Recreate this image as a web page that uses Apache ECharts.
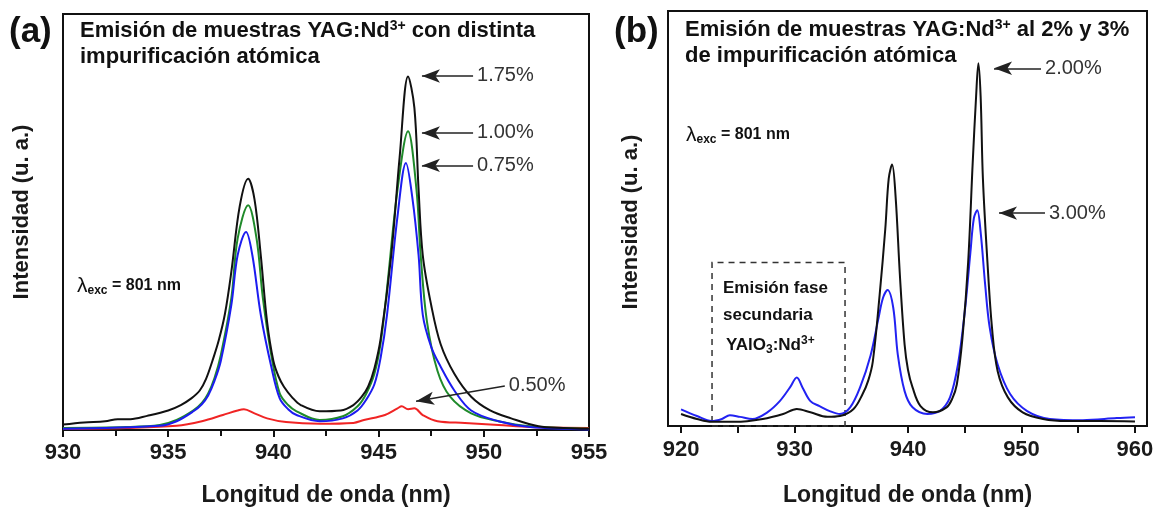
<!DOCTYPE html>
<html>
<head>
<meta charset="utf-8">
<script src="https://cdn.jsdelivr.net/npm/echarts@6/dist/echarts.min.js"></script>
<style>
  html, body { margin: 0; padding: 0; background: #fff; }
  #chart { width: 1157px; height: 512px; }
</style>
</head>
<body>
<div id="chart"></div>
<script>
// panel (a): emission of YAG:Nd3+ samples, different doping
const waveA175 = [930, 931, 932, 932.6, 933.2, 934, 935, 935.6, 936.1, 936.5, 936.8, 937.1, 937.4, 937.7, 938.0, 938.4, 938.8, 939.1, 939.4, 939.7, 940.0, 940.25, 940.5, 940.9, 941.3, 942.2, 943.2, 943.8, 944.2, 944.5, 944.8, 945.1, 945.6, 946.0, 946.4, 946.7, 946.9, 947.1, 947.5, 947.95, 948.6, 949.4, 950.3, 951.3, 952.6, 953.8, 955]
const intA175 = [1.3, 1.8, 2.1, 2.6, 2.6, 3.4, 4.7, 6.0, 7.6, 9.5, 12.3, 16.6, 21.5, 28, 38, 53.8, 60.4, 55.5, 42, 26, 16.6, 12.8, 10.4, 7.8, 6, 4.5, 4.7, 6, 8.0, 10.4, 14.8, 22, 42, 65.6, 85, 77.5, 57.8, 42, 30, 20.6, 13.5, 8, 4.7, 2.8, 0.9, 0.5, 0.3]

const waveA100 = [930, 933, 934.6, 935.4, 936.2, 936.6, 936.9, 937.2, 937.5, 938.0, 938.3, 938.8, 939.2, 939.5, 939.9, 940.3, 940.7, 941.1, 942.2, 943.3, 944.0, 944.4, 944.8, 945.1, 945.4, 945.9, 946.4, 946.8, 947.0, 947.3, 947.8, 948.4, 949.4, 950.7, 952.2, 955]
const intA100 = [0.5, 0.7, 1.2, 2.4, 4.7, 6.5, 8.8, 12.5, 18, 31.7, 46, 54, 46, 31.7, 18, 8.8, 6.0, 4.5, 2.4, 3.3, 5.7, 8.6, 13.5, 21, 34, 57.8, 71.8, 57.8, 42, 26, 14.2, 8, 4, 2.1, 0.9, 0.3]

const waveA075 = [930, 934.6, 935.4, 936.2, 936.6, 936.9, 937.2, 937.5, 938.0, 938.3, 938.7, 939.0, 939.4, 939.9, 940.3, 940.7, 941.1, 942.2, 943.3, 944.0, 944.4, 944.8, 945.1, 945.4, 945.9, 946.3, 946.6, 946.9, 947.1, 947.5, 947.95, 948.6, 949.4, 950.7, 952.2, 955]
const intA075 = [0.3, 1, 2.1, 4.5, 6.2, 8.3, 11.8, 16.6, 30, 42, 47.6, 42, 27.7, 15.2, 7.6, 5.0, 3.6, 2.1, 2.8, 4.7, 7.2, 11, 17.5, 27.7, 51.4, 64.2, 56, 42, 27.7, 20, 15.2, 9.5, 4.7, 2.1, 0.7, 0.1]

const waveA050 = [930, 933, 935.4, 936.6, 937.6, 938.3, 938.6, 939.1, 939.7, 940.6, 942.2, 943.8, 944.3, 945.3, 945.9, 946.1, 946.4, 946.7, 947.1, 947.8, 949.1, 950.7, 952.2, 955]
const intA050 = [0.3, 0.5, 1, 2.1, 3.6, 4.7, 5, 4, 2.8, 1.9, 1.5, 1.7, 2.4, 3.6, 5.2, 5.7, 5, 5.2, 3.6, 2.1, 1.7, 1.2, 0.7, 0.5]

// panel (b): 2% and 3% doping
const waveB200 = [920, 921.4, 922.7, 924.8, 927.2, 929, 930.2, 931.4, 932.9, 934, 935.2, 936, 936.5, 936.9, 937.5, 938, 938.3, 938.6, 938.9, 939.3, 939.7, 940.0, 940.4, 941.1, 942.2, 943.4, 943.9, 944.3, 944.8, 945.3, 945.7, 946, 946.2, 946.4, 946.6, 947, 947.4, 947.9, 948.8, 950.1, 951.9, 954, 956.9, 960]
const intB200 = [2.9, 1.7, 1, 1, 1.7, 2.9, 4.1, 3.3, 2.2, 2.4, 4.1, 7.7, 11, 15.6, 31.6, 47.6, 59.6, 63, 55.5, 35.6, 19.6, 13.5, 9.3, 4.8, 3.3, 4.5, 6.6, 10, 21.3, 39.5, 63.4, 79.4, 87.4, 79.4, 59.6, 39.5, 23.7, 13.2, 6.9, 3.3, 1.7, 1.2, 1.2, 1.1]

const waveB300 = [920, 921.4, 922.7, 923.6, 924.3, 925.2, 926.3, 927.6, 928.7, 929.6, 930.2, 930.7, 931.4, 932.2, 933.1, 934, 934.9, 935.8, 936.7, 937.4, 937.8, 938.2, 938.7, 939.1, 939.7, 940.4, 941.7, 942.8, 943.7, 944.4, 945, 945.5, 945.8, 946.1, 946.4, 946.8, 947.2, 947.9, 949, 950.5, 952.5, 955.4, 958.4, 960]
const intB300 = [4, 2.4, 1.2, 1.7, 2.6, 2.2, 1.7, 3.3, 6, 9.3, 11.7, 9.3, 6, 4.8, 3.6, 2.9, 4.5, 9.5, 17, 26, 30.9, 32.8, 28.5, 17.2, 8.4, 4.5, 2.9, 3.6, 6.9, 14.8, 27.5, 41.9, 50, 52, 46.7, 34, 23.7, 14.8, 7.7, 3.6, 1.7, 1.4, 1.9, 2.1]

const ticksA = [930, 935, 940, 945, 950, 955]
const ticksB = [920, 930, 940, 950, 960]
const minorTicksB = [920, 925, 930, 935, 940, 945, 950, 955, 960]

const FONT = '"Liberation Sans", Arial, Helvetica, sans-serif'

const zip = (xs, ys) => xs.map((x, i) => [x, ys[i]])

const chart = echarts.init(document.getElementById('chart'), null, { renderer: 'canvas' })

const xAxisBase = {
  type: 'value',
  splitLine: { show: false },
  axisLine: { show: true, onZero: false, lineStyle: { color: '#111', width: 2 } },
  axisTick: { show: true, inside: false, length: 7, lineStyle: { color: '#111', width: 2 } },
  axisLabel: { color: '#1a1a1a', fontSize: 22, fontWeight: 'bold', fontFamily: FONT, margin: 12 },
  name: 'Longitud de onda (nm)',
  nameLocation: 'middle',
  nameGap: 54,
  nameTextStyle: { color: '#1a1a1a', fontSize: 23, fontWeight: 'bold', fontFamily: FONT }
}

const yAxisBase = {
  type: 'value',
  min: 0,
  max: 100,
  axisLine: { show: false },
  axisTick: { show: false },
  axisLabel: { show: false },
  splitLine: { show: false }
}

const lineSeries = (name, data, color, xi) => ({
  name: name,
  type: 'line',
  xAxisIndex: xi,
  yAxisIndex: xi,
  data: data,
  symbol: 'none',
  smooth: 0.35,
  lineStyle: { color: color, width: 2 },
  silent: true
})

const arrowStyle = {
  silent: true,
  symbol: ['arrow', 'none'],
  symbolSize: [10, 18],
  lineStyle: { color: '#222', width: 1.5, type: 'solid' },
  label: { show: true, position: 'end', distance: 4, formatter: '{b}', color: '#333', fontSize: 20, fontFamily: FONT }
}

const arrow = (name, x1, y1, x2, y2) => [
  { name: name, coord: [x1, y1] },
  { coord: [x2, y2] }
]

const black175 = lineSeries('1.75%', zip(waveA175, intA175), '#111', 0)
black175.markLine = Object.assign({}, arrowStyle, {
  data: [
    arrow('1.75%', 947.06, 85.1, 949.49, 85.1),
    arrow('1.00%', 947.06, 71.4, 949.49, 71.4),
    arrow('0.75%', 947.06, 63.6, 949.49, 63.6),
    arrow('0.50%', 946.78, 6.9, 951.0, 10.6)
  ]
})

const black200 = lineSeries('2.00%', zip(waveB200, intB200), '#111', 1)
black200.markLine = Object.assign({}, arrowStyle, {
  data: [
    arrow('2.00%', 947.58, 86.2, 951.72, 86.2),
    arrow('3.00%', 948.02, 51.3, 952.07, 51.3)
  ]
})
black200.markArea = {
  silent: true,
  itemStyle: { color: 'rgba(0,0,0,0)', borderColor: '#333', borderWidth: 1.5, borderType: [6, 5] },
  data: [[{ coord: [922.73, 0] }, { coord: [934.45, 39.4] }]]
}

const boldText = (size) => ({ fontSize: size, fontWeight: 'bold', fontFamily: FONT, fill: '#111' })
const sup = { fontSize: 14, fontWeight: 'bold', fontFamily: FONT, fill: '#111', padding: [0, 0, 10, 0] }

const titleText = (x, y, text) => ({
  type: 'text', x: x, y: y, silent: true,
  style: Object.assign(boldText(22), { text: text, verticalAlign: 'middle', rich: { sup: sup } })
})

const lambdaText = (x, y) => ({
  type: 'text', x: x, y: y, silent: true,
  style: {
    text: '{l|λ}{s|exc}{n| = 801 nm}', verticalAlign: 'middle', fill: '#111',
    rich: {
      l: { fontSize: 21, fontFamily: FONT, fill: '#111' },
      s: { fontSize: 12, fontWeight: 'bold', fontFamily: FONT, fill: '#111', padding: [9, 0, 0, 0] },
      n: { fontSize: 16, fontWeight: 'bold', fontFamily: FONT, fill: '#111' }
    }
  }
})

const yName = (x, y) => ({
  type: 'text', x: x, y: y, rotation: Math.PI / 2, silent: true,
  style: Object.assign(boldText(22), { text: 'Intensidad (u. a.)', align: 'center', verticalAlign: 'middle', fill: '#1a1a1a' })
})

const option = {
  animation: false,
  backgroundColor: '#ffffff',
  grid: [
    { left: 63, top: 14, width: 526, height: 423, show: true, borderColor: '#111', borderWidth: 2, backgroundColor: 'transparent' },
    { left: 668, top: 11, width: 479, height: 421, show: true, borderColor: '#111', borderWidth: 2, backgroundColor: 'transparent' }
  ],
  xAxis: [
    Object.assign({}, xAxisBase, {
      gridIndex: 0, min: ticksA[0], max: ticksA[ticksA.length - 1], interval: 5,
      minorTick: { show: true, splitNumber: 2, length: 6, lineStyle: { color: '#111', width: 2 } },
      axisLabel: Object.assign({}, xAxisBase.axisLabel, { showMinLabel: true, showMaxLabel: true })
    }),
    Object.assign({}, xAxisBase, {
      gridIndex: 1, min: 918.85, max: 961.06,
      axisTick: Object.assign({}, xAxisBase.axisTick, { customValues: minorTicksB }),
      axisLabel: Object.assign({}, xAxisBase.axisLabel, { customValues: ticksB, margin: 13 }),
      nameGap: 58
    })
  ],
  yAxis: [
    Object.assign({}, yAxisBase, { gridIndex: 0 }),
    Object.assign({}, yAxisBase, { gridIndex: 1 })
  ],
  series: [
    lineSeries('0.50%', zip(waveA050, intA050), '#f02424', 0),
    lineSeries('1.00%', zip(waveA100, intA100), '#1f8a2a', 0),
    lineSeries('0.75%', zip(waveA075, intA075), '#1c1cf0', 0),
    black175,
    lineSeries('3.00%', zip(waveB300, intB300), '#2222f2', 1),
    black200
  ],
  graphic: [
    { type: 'text', x: 9, y: 32, silent: true, style: Object.assign(boldText(35), { text: '(a)', verticalAlign: 'middle' }) },
    titleText(80, 31, 'Emisión de muestras YAG:Nd{sup|3+} con distinta'),
    titleText(80, 57, 'impurificación atómica'),
    { type: 'text', x: 614, y: 32, silent: true, style: Object.assign(boldText(35), { text: '(b)', verticalAlign: 'middle' }) },
    titleText(685, 30, 'Emisión de muestras YAG:Nd{sup|3+} al 2% y 3%'),
    titleText(685, 56, 'de impurificación atómica'),
    lambdaText(77, 286),
    lambdaText(686, 135),
    yName(22, 212),
    yName(631, 222),
    {
      type: 'text', x: 723, y: 288, silent: true,
      style: Object.assign(boldText(17), { text: 'Emisión fase', verticalAlign: 'middle' })
    },
    {
      type: 'text', x: 723, y: 315, silent: true,
      style: Object.assign(boldText(17), { text: 'secundaria', verticalAlign: 'middle' })
    },
    {
      type: 'text', x: 726, y: 345, silent: true,
      style: {
        text: '{n|YAlO}{s|3}{n|:Nd}{p|3+}', verticalAlign: 'middle',
        rich: {
          n: { fontSize: 17, fontWeight: 'bold', fontFamily: FONT, fill: '#111' },
          s: { fontSize: 12, fontWeight: 'bold', fontFamily: FONT, fill: '#111', padding: [9, 0, 0, 0] },
          p: { fontSize: 12, fontWeight: 'bold', fontFamily: FONT, fill: '#111', padding: [0, 0, 9, 0] }
        }
      }
    }
  ]
}

chart.setOption(option)
</script>
</body>
</html>
